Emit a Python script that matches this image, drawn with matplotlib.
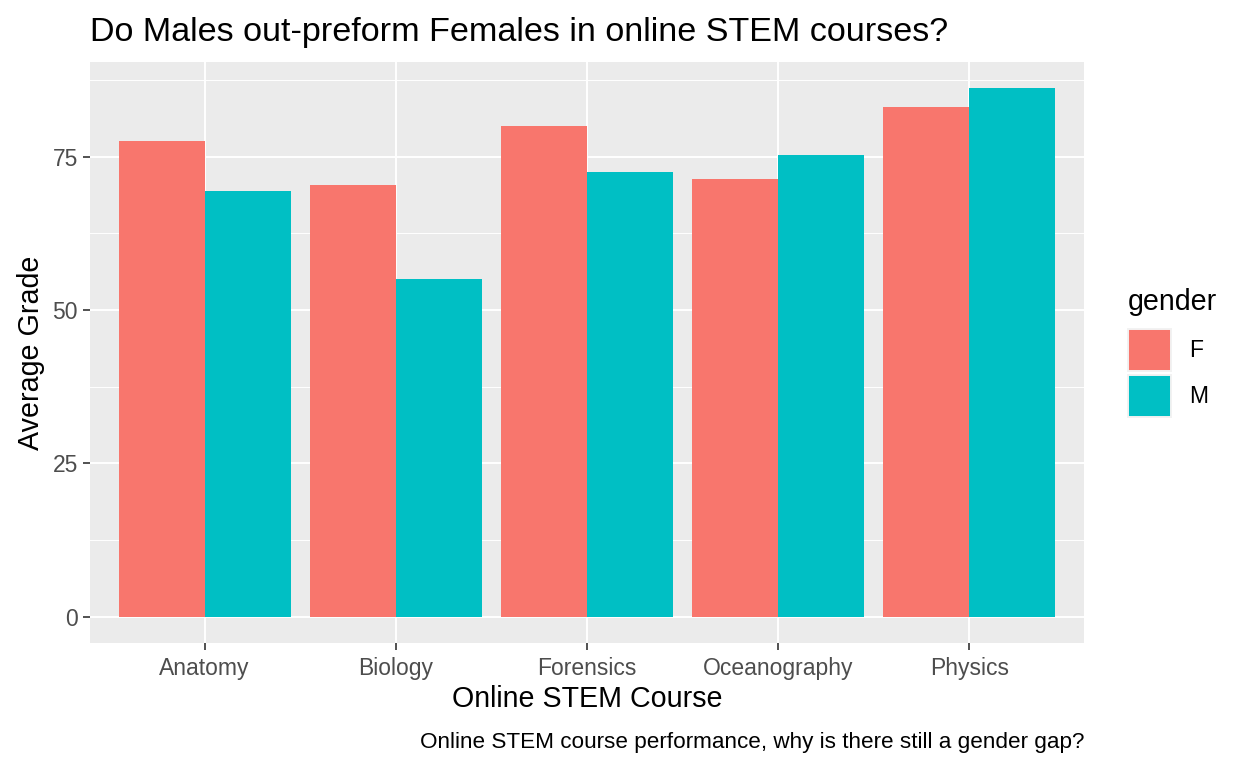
import numpy as np
import matplotlib.pyplot as plt
from matplotlib.patches import Patch
from matplotlib.ticker import MultipleLocator

# values
courses = ["Anatomy", "Biology", "Forensics", "Oceanography", "Physics"]
female = [77.6, 70.4, 79.9, 71.3, 83.1]
male = [69.3, 55.0, 72.4, 75.2, 86.1]
genders = ["F", "M"]
colors = ["#F8766D", "#00BFC4"]

plt.rcParams["font.family"] = ["Liberation Sans", "DejaVu Sans"]

W, H = 1248, 768
fig = plt.figure(figsize=(W / 100, H / 100), dpi=100)
ax = fig.add_axes([90 / W, 1 - 643 / H, (1084 - 90) / W, (643 - 62) / H])
ax.set_facecolor("#EBEBEB")

x = np.arange(len(courses))
w = 0.45
ax.bar(x - w / 2, female, w, color=colors[0], zorder=3)
ax.bar(x + w / 2, male, w, color=colors[1], zorder=3)

top = max(max(female), max(male))
ax.set_xlim(-0.6, len(courses) - 0.4)
ax.set_ylim(-0.05 * top, 1.05 * top)
ax.yaxis.set_major_locator(MultipleLocator(25))
ax.yaxis.set_minor_locator(MultipleLocator(12.5))
ax.set_xticks(x, courses)

ax.grid(which="major", color="white", lw=1.4, zorder=0)
ax.grid(which="minor", axis="y", color="white", lw=0.7, zorder=0)
ax.set_axisbelow(True)
for s in ax.spines.values():
    s.set_visible(False)
ax.tick_params(which="major", length=4.8, width=1.2, color="#333333",
               labelcolor="#4D4D4D", labelsize=16.5, pad=4)
ax.tick_params(axis="x", pad=5)
ax.tick_params(which="minor", length=0)

ax.set_xlabel("Online STEM Course", fontsize=20.6, labelpad=4)
ax.set_ylabel("Average Grade", fontsize=20.6, labelpad=5)
ax.set_title("Do Males out-preform Females in online STEM courses?",
             loc="left", fontsize=24.6, pad=15)

fig.text(1084 / W, 1 - 748 / H,
         "Online STEM course performance, why is there still a gender gap?",
         ha="right", va="baseline", fontsize=16.2)

handles = [Patch(facecolor=c, edgecolor="#F2F2F2", linewidth=1.4) for c in colors]
leg = fig.legend(handles, genders, title="gender", loc="upper left",
                 bbox_to_anchor=(1128 / W, 1 - 288 / H), frameon=False,
                 fontsize=16.5, title_fontsize=20.6, handlelength=1.88,
                 handleheight=2.45, handletextpad=0.79, labelspacing=0.17,
                 borderpad=0, borderaxespad=0, alignment="left")
leg._legend_box.sep = 9.5  # gap between legend title and keys

fig.savefig("out.png", dpi=100)
